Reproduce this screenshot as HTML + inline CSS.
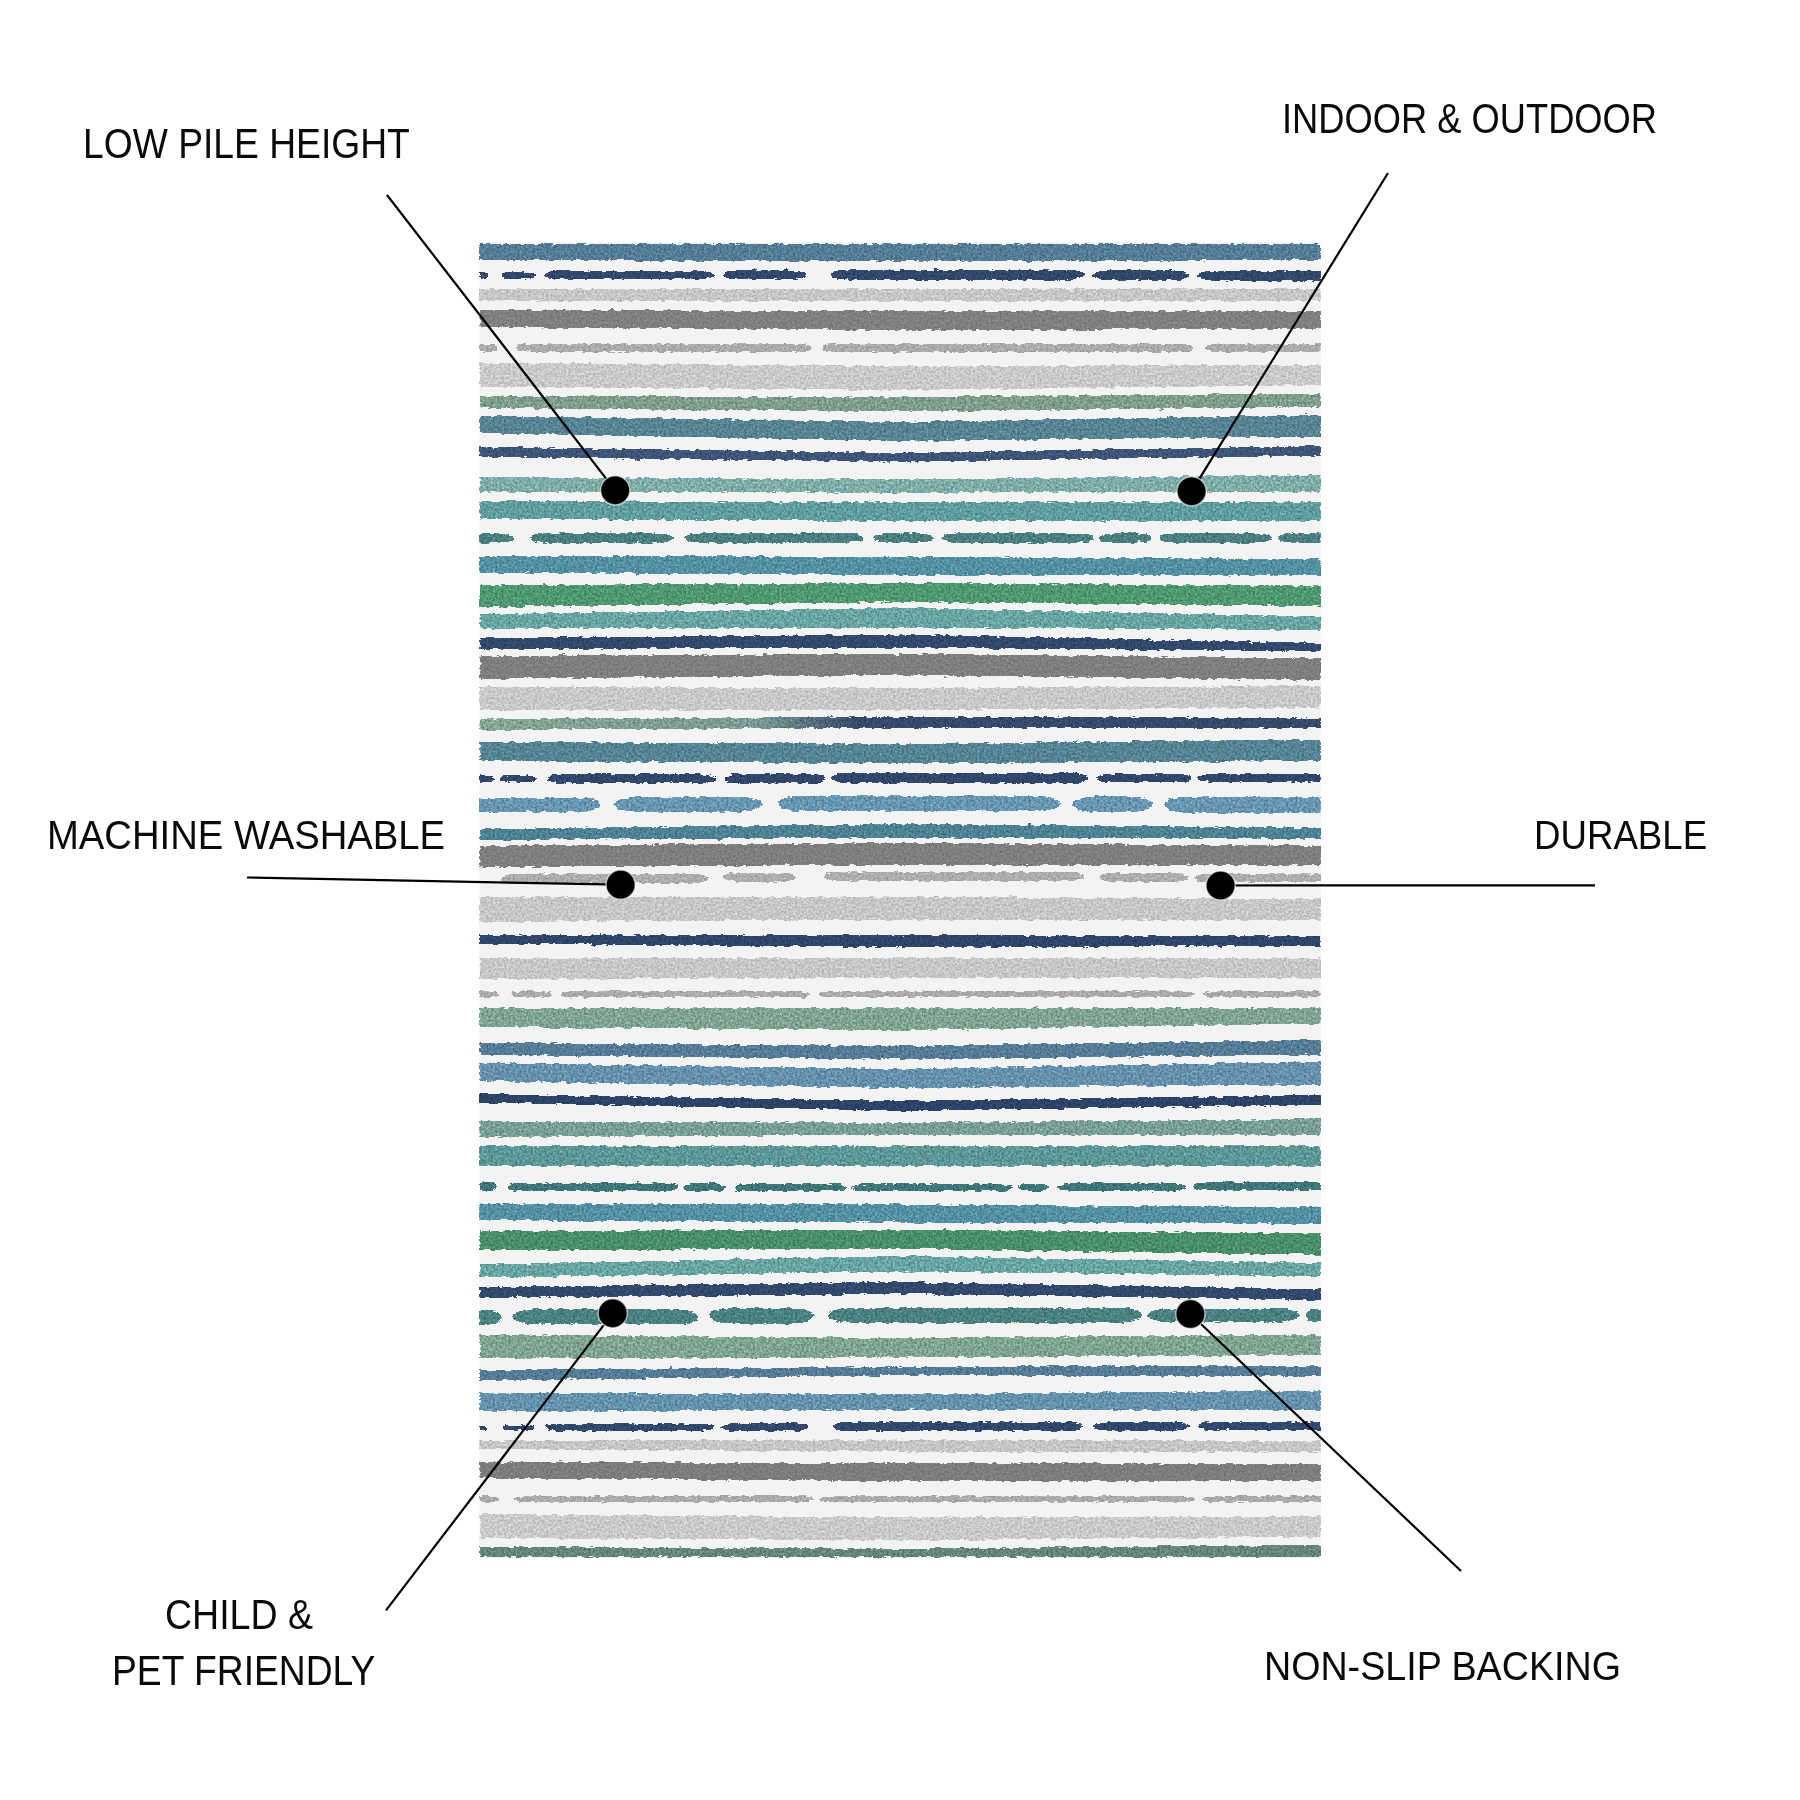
<!DOCTYPE html>
<html><head><meta charset="utf-8"><style>
html,body{margin:0;padding:0;background:#fff;width:1800px;height:1800px;overflow:hidden}
.t{position:absolute;font-family:"Liberation Sans",sans-serif;line-height:1;white-space:pre;color:#0a0a0a;transform-origin:0 0}
svg{position:absolute;left:0;top:0}
</style></head><body>
<svg width="1800" height="1800" viewBox="0 0 1800 1800">
<defs>
<linearGradient id="g19" x1="479" x2="1321" y1="0" y2="0" gradientUnits="userSpaceOnUse">
<stop offset="0" stop-color="#87a596"/><stop offset="0.33" stop-color="#7a9a92"/><stop offset="0.45" stop-color="#36496b"/><stop offset="1" stop-color="#36496b"/>
</linearGradient>
<filter id="tex" x="479" y="240" width="842" height="1320" filterUnits="userSpaceOnUse" color-interpolation-filters="sRGB">
<feTurbulence type="fractalNoise" baseFrequency="0.12 0.4" numOctaves="3" seed="7" result="n1"/>
<feDisplacementMap in="SourceGraphic" in2="n1" scale="4.5" xChannelSelector="R" yChannelSelector="G" result="d0"/>
<feComponentTransfer in="d0" result="d"><feFuncA type="discrete" tableValues="0 1"/></feComponentTransfer>
<feTurbulence type="fractalNoise" baseFrequency="0.45" numOctaves="2" seed="3" result="n2"/>
<feColorMatrix in="n2" type="matrix" values="1 0 0 0 0  1 0 0 0 0  1 0 0 0 0  0 0 0 0 1" result="g"/>
<feComposite in="d" in2="g" operator="arithmetic" k1="0.8" k2="0.6" k3="0" k4="0"/>
</filter>
<filter id="texg" x="479" y="240" width="842" height="1320" filterUnits="userSpaceOnUse" color-interpolation-filters="sRGB">
<feTurbulence type="fractalNoise" baseFrequency="0.12 0.4" numOctaves="3" seed="11" result="n1"/>
<feDisplacementMap in="SourceGraphic" in2="n1" scale="4.5" xChannelSelector="R" yChannelSelector="G" result="d0"/>
<feComponentTransfer in="d0" result="d"><feFuncA type="discrete" tableValues="0 1"/></feComponentTransfer>
<feTurbulence type="fractalNoise" baseFrequency="0.45" numOctaves="2" seed="5" result="n2"/>
<feColorMatrix in="n2" type="matrix" values="1 0 0 0 0  1 0 0 0 0  1 0 0 0 0  0 0 0 0 1" result="g"/>
<feComposite in="d" in2="g" operator="arithmetic" k1="0.45" k2="0.78" k3="0" k4="0"/>
</filter>
</defs>
<rect x="479.50" y="242.00" width="841.25" height="1316.00" fill="#f4f3f3"/>
<g filter="url(#tex)">
<path d="M479.5 244.4 L900.0 244.4 L1320.8 244.4 L1320.8 260.0 L900.0 261.5 L479.5 260.0Z" fill="#547d96"/>
<path d="M479.5 272.4 L483.8 272.4 A4.2 3.1 0 0 1 483.8 278.6 L479.5 278.6 L479.5 278.6 L479.5 272.4Z" fill="#31486c"/>
<path d="M510.9 272.1 L526.1 272.1 A9.9 3.3 0 0 1 526.1 278.7 L510.9 278.7 A9.9 3.3 0 0 1 510.9 272.1Z" fill="#31486c"/>
<path d="M556.4 271.3 L702.6 271.3 A11.4 3.8 0 0 1 702.6 279.0 L556.4 279.0 A11.4 3.8 0 0 1 556.4 271.3Z" fill="#31486c"/>
<path d="M735.4 270.4 L794.6 270.4 A13.4 4.5 0 0 1 794.6 279.3 L735.4 279.3 A13.4 4.5 0 0 1 735.4 270.4Z" fill="#31486c"/>
<path d="M846.1 269.7 L1069.9 269.7 A15.1 5.0 0 0 1 1069.9 279.7 L846.1 279.7 A15.1 5.0 0 0 1 846.1 269.7Z" fill="#31486c"/>
<path d="M1107.4 270.5 L1174.6 270.5 A14.4 4.8 0 0 1 1174.6 280.2 L1107.4 280.2 A14.4 4.8 0 0 1 1107.4 270.5Z" fill="#31486c"/>
<path d="M1212.0 271.1 L1320.8 271.1 L1320.8 271.1 L1320.8 280.5 L1212.0 280.5 A14.0 4.7 0 0 1 1212.0 271.1Z" fill="#31486c"/>
<path d="M479.5 396.0 L900.0 397.0 L1320.8 393.6 L1320.8 406.7 L900.0 411.5 L479.5 408.0Z" fill="#7f9d8e"/>
<path d="M479.5 416.0 L900.0 422.0 L1320.8 415.0 L1320.8 436.6 L900.0 441.0 L479.5 433.0Z" fill="#578494"/>
<path d="M479.5 447.0 L900.0 453.0 L1320.8 446.0 L1320.8 455.7 L900.0 461.7 L479.5 457.0Z" fill="#3e5579"/>
<path d="M479.5 477.0 L900.0 479.6 L1320.8 475.0 L1320.8 491.5 L900.0 492.7 L479.5 491.5Z" fill="#7fada8"/>
<path d="M479.5 501.0 L900.0 502.5 L1320.8 502.0 L1320.8 521.4 L900.0 521.0 L479.5 519.0Z" fill="#609d9d"/>
<path d="M479.5 533.4 L500.2 533.4 A13.8 4.6 0 0 1 500.2 542.6 L479.5 542.6 L479.5 542.6 L479.5 533.4Z" fill="#4a7f80"/>
<path d="M543.8 533.4 L659.2 533.4 A13.8 4.6 0 0 1 659.2 542.6 L543.8 542.6 A13.8 4.6 0 0 1 543.8 533.4Z" fill="#4a7f80"/>
<path d="M698.8 533.4 L849.2 533.4 A13.8 4.6 0 0 1 849.2 542.6 L698.8 542.6 A13.8 4.6 0 0 1 698.8 533.4Z" fill="#4a7f80"/>
<path d="M886.8 533.4 L919.2 533.4 A13.8 4.6 0 0 1 919.2 542.6 L886.8 542.6 A13.8 4.6 0 0 1 886.8 533.4Z" fill="#4a7f80"/>
<path d="M955.8 533.4 L1080.2 533.4 A13.8 4.6 0 0 1 1080.2 542.6 L955.8 542.6 A13.8 4.6 0 0 1 955.8 533.4Z" fill="#4a7f80"/>
<path d="M1112.8 533.4 L1138.2 533.4 A13.8 4.6 0 0 1 1138.2 542.6 L1112.8 542.6 A13.8 4.6 0 0 1 1112.8 533.4Z" fill="#4a7f80"/>
<path d="M1172.8 533.4 L1257.2 533.4 A13.8 4.6 0 0 1 1257.2 542.6 L1172.8 542.6 A13.8 4.6 0 0 1 1172.8 533.4Z" fill="#4a7f80"/>
<path d="M1291.8 533.4 L1320.8 533.4 L1320.8 533.4 L1320.8 542.6 L1291.8 542.6 A13.8 4.6 0 0 1 1291.8 533.4Z" fill="#4a7f80"/>
<path d="M479.5 555.7 L900.0 557.0 L1320.8 559.0 L1320.8 575.0 L900.0 574.9 L479.5 572.5Z" fill="#5490a3"/>
<path d="M479.5 585.0 L900.0 583.0 L1320.8 586.0 L1320.8 606.0 L900.0 602.0 L479.5 607.0Z" fill="#4f9870"/>
<path d="M479.5 614.0 L900.0 608.0 L1320.8 616.7 L1320.8 630.0 L900.0 627.4 L479.5 628.6Z" fill="#68a5a2"/>
<path d="M479.5 638.0 L900.0 634.6 L1320.8 643.0 L1320.8 651.0 L900.0 647.7 L479.5 649.0Z" fill="#32496d"/>
<path d="M479.5 719.0 L900.0 716.7 L1320.8 718.0 L1320.8 727.5 L900.0 727.5 L479.5 730.0Z" fill="url(#g19)"/>
<path d="M479.5 741.8 L900.0 744.0 L1320.8 739.4 L1320.8 761.0 L900.0 763.3 L479.5 761.0Z" fill="#558494"/>
<path d="M479.5 775.4 L486.8 775.4 A7.2 3.4 0 0 1 486.8 782.2 L479.5 782.2 L479.5 782.2 L479.5 775.4Z" fill="#30476b"/>
<path d="M508.7 775.2 L527.3 775.2 A10.7 3.6 0 0 1 527.3 782.3 L508.7 782.3 A10.7 3.6 0 0 1 508.7 775.2Z" fill="#30476b"/>
<path d="M560.1 774.6 L703.9 774.6 A12.1 4.0 0 0 1 703.9 782.6 L560.1 782.6 A12.1 4.0 0 0 1 560.1 774.6Z" fill="#30476b"/>
<path d="M738.9 773.8 L811.1 773.8 A13.9 4.6 0 0 1 811.1 783.0 L738.9 783.0 A13.9 4.6 0 0 1 738.9 773.8Z" fill="#30476b"/>
<path d="M846.7 773.3 L1073.3 773.3 A14.7 4.9 0 0 1 1073.3 783.1 L846.7 783.1 A14.7 4.9 0 0 1 846.7 773.3Z" fill="#30476b"/>
<path d="M1108.3 773.8 L1179.7 773.8 A12.3 4.1 0 0 1 1179.7 782.0 L1108.3 782.0 A12.3 4.1 0 0 1 1108.3 773.8Z" fill="#30476b"/>
<path d="M1207.8 774.1 L1320.8 774.1 L1320.8 774.1 L1320.8 781.4 L1207.8 781.4 A10.8 3.6 0 0 1 1207.8 774.1Z" fill="#30476b"/>
<path d="M479.5 797.8 L581.8 797.8 A21.2 7.1 0 0 1 581.8 811.9 L479.5 811.9 L479.5 811.9 L479.5 797.8Z" fill="#6696b2"/>
<path d="M633.8 797.0 L743.2 797.0 A21.8 7.3 0 0 1 743.2 811.5 L633.8 811.5 A21.8 7.3 0 0 1 633.8 797.0Z" fill="#6696b2"/>
<path d="M800.7 795.8 L1037.3 795.8 A22.7 7.6 0 0 1 1037.3 811.0 L800.7 811.0 A22.7 7.6 0 0 1 800.7 795.8Z" fill="#6696b2"/>
<path d="M1093.6 796.4 L1131.4 796.4 A23.6 7.9 0 0 1 1131.4 812.1 L1093.6 812.1 A23.6 7.9 0 0 1 1093.6 796.4Z" fill="#6696b2"/>
<path d="M1186.2 796.7 L1320.8 796.7 L1320.8 796.7 L1320.8 812.8 L1186.2 812.8 A24.2 8.1 0 0 1 1186.2 796.7Z" fill="#6696b2"/>
<path d="M479.5 829.0 L900.0 824.0 L1320.8 827.8 L1320.8 838.6 L900.0 837.4 L479.5 839.8Z" fill="#4d8294"/>
<path d="M479.5 935.0 L900.0 935.0 L1320.8 936.4 L1320.8 946.0 L900.0 947.0 L479.5 943.6Z" fill="#2f456a"/>
<path d="M479.5 1008.0 L900.0 1008.0 L1320.8 1008.0 L1320.8 1023.5 L900.0 1030.0 L479.5 1027.0Z" fill="#7fa494"/>
<path d="M479.5 1042.7 L900.0 1046.0 L1320.8 1040.0 L1320.8 1054.6 L900.0 1059.4 L479.5 1054.6Z" fill="#557c97"/>
<path d="M479.5 1063.0 L900.0 1069.0 L1320.8 1061.8 L1320.8 1084.5 L900.0 1088.0 L479.5 1081.0Z" fill="#6591ad"/>
<path d="M479.5 1094.0 L900.0 1101.0 L1320.8 1095.0 L1320.8 1104.8 L900.0 1110.8 L479.5 1102.4Z" fill="#2d4368"/>
<path d="M479.5 1121.5 L900.0 1122.7 L1320.8 1119.0 L1320.8 1134.7 L900.0 1134.7 L479.5 1137.0Z" fill="#789f96"/>
<path d="M479.5 1146.6 L900.0 1146.6 L1320.8 1146.6 L1320.8 1165.7 L900.0 1165.7 L479.5 1165.7Z" fill="#5d9797"/>
<path d="M479.5 1182.2 L489.2 1182.2 A9.8 4.6 0 0 1 489.2 1191.3 L479.5 1191.3 L479.5 1191.3 L479.5 1182.2Z" fill="#3e7778"/>
<path d="M519.9 1182.7 L665.1 1182.7 A12.9 4.3 0 0 1 665.1 1191.3 L519.9 1191.3 A12.9 4.3 0 0 1 519.9 1182.7Z" fill="#3e7778"/>
<path d="M695.0 1183.3 L714.0 1183.3 A12.0 4.0 0 0 1 714.0 1191.3 L695.0 1191.3 A12.0 4.0 0 0 1 695.0 1183.3Z" fill="#3e7778"/>
<path d="M746.2 1183.8 L834.8 1183.8 A11.2 3.7 0 0 1 834.8 1191.3 L746.2 1191.3 A11.2 3.7 0 0 1 746.2 1183.8Z" fill="#3e7778"/>
<path d="M862.5 1184.2 L1001.5 1184.2 A10.5 3.5 0 0 1 1001.5 1191.2 L862.5 1191.2 A10.5 3.5 0 0 1 862.5 1184.2Z" fill="#3e7778"/>
<path d="M1028.9 1183.7 L1038.1 1183.7 A10.9 3.6 0 0 1 1038.1 1190.9 L1028.9 1190.9 A10.9 3.6 0 0 1 1028.9 1183.7Z" fill="#3e7778"/>
<path d="M1068.2 1183.2 L1173.8 1183.2 A11.2 3.7 0 0 1 1173.8 1190.7 L1068.2 1190.7 A11.2 3.7 0 0 1 1068.2 1183.2Z" fill="#3e7778"/>
<path d="M1205.8 1182.4 L1320.8 1182.4 L1320.8 1182.4 L1320.8 1190.3 L1205.8 1190.3 A11.8 3.9 0 0 1 1205.8 1182.4Z" fill="#3e7778"/>
<path d="M479.5 1204.6 L900.0 1204.6 L1320.8 1207.0 L1320.8 1223.7 L900.0 1222.6 L479.5 1220.0Z" fill="#5490a3"/>
<path d="M479.5 1231.0 L900.0 1229.7 L1320.8 1233.3 L1320.8 1254.8 L900.0 1248.8 L479.5 1250.0Z" fill="#4a8f6a"/>
<path d="M479.5 1264.4 L900.0 1256.0 L1320.8 1263.0 L1320.8 1276.3 L900.0 1271.5 L479.5 1277.5Z" fill="#68a5a2"/>
<path d="M479.5 1287.0 L900.0 1282.0 L1320.8 1289.4 L1320.8 1300.0 L900.0 1294.0 L479.5 1297.8Z" fill="#32496d"/>
<path d="M479.5 1310.2 L490.2 1310.2 A10.8 7.2 0 0 1 490.2 1324.6 L479.5 1324.6 L479.5 1324.6 L479.5 1310.2Z" fill="#4a8181"/>
<path d="M532.1 1309.4 L678.9 1309.4 A22.1 7.4 0 0 1 678.9 1324.1 L532.1 1324.1 A22.1 7.4 0 0 1 532.1 1309.4Z" fill="#4a8181"/>
<path d="M731.6 1308.3 L791.4 1308.3 A22.6 7.5 0 0 1 791.4 1323.4 L731.6 1323.4 A22.6 7.5 0 0 1 731.6 1308.3Z" fill="#4a8181"/>
<path d="M851.2 1307.7 L1119.8 1307.7 A22.2 7.4 0 0 1 1119.8 1322.5 L851.2 1322.5 A22.2 7.4 0 0 1 851.2 1307.7Z" fill="#4a8181"/>
<path d="M1167.6 1308.8 L1279.4 1308.8 A19.6 6.5 0 0 1 1279.4 1321.9 L1167.6 1321.9 A19.6 6.5 0 0 1 1167.6 1308.8Z" fill="#4a8181"/>
<path d="M1313.4 1309.3 L1320.8 1309.3 L1320.8 1309.3 L1320.8 1321.7 L1313.4 1321.7 A7.4 6.2 0 0 1 1313.4 1309.3Z" fill="#4a8181"/>
<path d="M479.5 1334.6 L900.0 1338.0 L1320.8 1334.6 L1320.8 1354.9 L900.0 1357.3 L479.5 1358.4Z" fill="#7fa494"/>
<path d="M479.5 1370.0 L900.0 1366.8 L1320.8 1365.6 L1320.8 1376.4 L900.0 1375.2 L479.5 1380.5Z" fill="#557c97"/>
<path d="M479.5 1393.0 L900.0 1394.3 L1320.8 1390.7 L1320.8 1409.8 L900.0 1409.8 L479.5 1411.0Z" fill="#6492ad"/>
<path d="M479.5 1425.4 L483.8 1425.4 A4.2 2.4 0 0 1 483.8 1430.1 L479.5 1430.1 L479.5 1430.1 L479.5 1425.4Z" fill="#31486c"/>
<path d="M508.7 1425.1 L528.3 1425.1 A7.7 2.6 0 0 1 528.3 1430.2 L508.7 1430.2 A7.7 2.6 0 0 1 508.7 1425.1Z" fill="#31486c"/>
<path d="M554.4 1424.2 L704.6 1424.2 A9.4 3.1 0 0 1 704.6 1430.5 L554.4 1430.5 A9.4 3.1 0 0 1 554.4 1424.2Z" fill="#31486c"/>
<path d="M733.5 1423.1 L796.5 1423.1 A11.5 3.8 0 0 1 796.5 1430.8 L733.5 1430.8 A11.5 3.8 0 0 1 733.5 1423.1Z" fill="#31486c"/>
<path d="M844.4 1422.0 L1071.6 1422.0 A13.4 4.5 0 0 1 1071.6 1430.9 L844.4 1430.9 A13.4 4.5 0 0 1 844.4 1422.0Z" fill="#31486c"/>
<path d="M1105.6 1422.0 L1176.4 1422.0 A12.6 4.2 0 0 1 1176.4 1430.4 L1105.6 1430.4 A12.6 4.2 0 0 1 1105.6 1422.0Z" fill="#31486c"/>
<path d="M1210.1 1422.0 L1320.8 1422.0 L1320.8 1422.0 L1320.8 1430.1 L1210.1 1430.1 A12.1 4.0 0 0 1 1210.1 1422.0Z" fill="#31486c"/>
<path d="M479.5 1547.0 L900.0 1548.7 L1320.8 1545.0 L1320.8 1557.0 L900.0 1557.0 L479.5 1557.0Z" fill="#658679"/>
</g>
<g filter="url(#texg)">
<path d="M479.5 289.0 L900.0 289.0 L1320.8 289.0 L1320.8 301.0 L900.0 301.0 L479.5 301.0Z" fill="#c6c6c6"/>
<path d="M479.5 310.0 L900.0 311.0 L1320.8 311.0 L1320.8 329.0 L900.0 330.0 L479.5 327.0Z" fill="#7f7f7f"/>
<path d="M479.5 343.9 L489.2 343.9 A9.8 3.9 0 0 1 489.2 351.6 L479.5 351.6 L479.5 351.6 L479.5 343.9Z" fill="#aaaaaa"/>
<path d="M525.6 343.9 L802.4 343.9 A11.6 3.9 0 0 1 802.4 351.6 L525.6 351.6 A11.6 3.9 0 0 1 525.6 343.9Z" fill="#aaaaaa"/>
<path d="M830.6 343.9 L1183.4 343.9 A11.6 3.9 0 0 1 1183.4 351.6 L830.6 351.6 A11.6 3.9 0 0 1 830.6 343.9Z" fill="#aaaaaa"/>
<path d="M1214.6 343.9 L1320.8 343.9 L1320.8 343.9 L1320.8 351.6 L1214.6 351.6 A11.6 3.9 0 0 1 1214.6 343.9Z" fill="#aaaaaa"/>
<path d="M479.5 362.6 L900.0 366.0 L1320.8 365.0 L1320.8 385.0 L900.0 390.0 L479.5 386.5Z" fill="#c9c9c9"/>
<path d="M479.5 656.0 L900.0 653.7 L1320.8 658.5 L1320.8 680.0 L900.0 675.0 L479.5 678.8Z" fill="#7e7e7e"/>
<path d="M479.5 687.0 L900.0 688.0 L1320.8 686.0 L1320.8 707.5 L900.0 710.0 L479.5 710.0Z" fill="#c8c8c8"/>
<path d="M479.5 845.7 L900.0 843.0 L1320.8 845.7 L1320.8 864.8 L900.0 864.8 L479.5 867.0Z" fill="#7e7e7e"/>
<path d="M513.7 874.2 L695.3 874.2 A12.7 4.2 0 0 1 695.3 882.7 L513.7 882.7 A12.7 4.2 0 0 1 513.7 874.2Z" fill="#acacac"/>
<path d="M736.3 872.7 L782.7 872.7 A13.3 4.4 0 0 1 782.7 881.6 L736.3 881.6 A13.3 4.4 0 0 1 736.3 872.7Z" fill="#acacac"/>
<path d="M837.6 871.8 L1070.4 871.8 A13.6 4.5 0 0 1 1070.4 880.9 L837.6 880.9 A13.6 4.5 0 0 1 837.6 871.8Z" fill="#acacac"/>
<path d="M1112.9 873.1 L1175.1 873.1 A12.9 4.3 0 0 1 1175.1 881.8 L1112.9 881.8 A12.9 4.3 0 0 1 1112.9 873.1Z" fill="#acacac"/>
<path d="M1206.5 873.9 L1320.8 873.9 L1320.8 873.9 L1320.8 882.3 L1206.5 882.3 A12.5 4.2 0 0 1 1206.5 873.9Z" fill="#acacac"/>
<path d="M479.5 897.0 L900.0 897.0 L1320.8 899.0 L1320.8 919.7 L900.0 919.5 L479.5 922.0Z" fill="#c6c6c6"/>
<path d="M479.5 958.0 L900.0 958.5 L1320.8 958.0 L1320.8 978.5 L900.0 977.5 L479.5 979.0Z" fill="#c6c6c6"/>
<path d="M479.5 991.4 L491.4 991.4 A8.6 2.9 0 0 1 491.4 997.1 L479.5 997.1 L479.5 997.1 L479.5 991.4Z" fill="#aaaaaa"/>
<path d="M518.6 991.4 L545.4 991.4 A8.6 2.9 0 0 1 545.4 997.1 L518.6 997.1 A8.6 2.9 0 0 1 518.6 991.4Z" fill="#aaaaaa"/>
<path d="M567.6 991.4 L802.4 991.4 A8.6 2.9 0 0 1 802.4 997.1 L567.6 997.1 A8.6 2.9 0 0 1 567.6 991.4Z" fill="#aaaaaa"/>
<path d="M826.6 991.4 L1186.4 991.4 A8.6 2.9 0 0 1 1186.4 997.1 L826.6 997.1 A8.6 2.9 0 0 1 826.6 991.4Z" fill="#aaaaaa"/>
<path d="M1210.6 991.4 L1320.8 991.4 L1320.8 991.4 L1320.8 997.1 L1210.6 997.1 A8.6 2.9 0 0 1 1210.6 991.4Z" fill="#aaaaaa"/>
<path d="M479.5 1440.9 L900.0 1439.7 L1320.8 1440.9 L1320.8 1451.6 L900.0 1451.6 L479.5 1449.0Z" fill="#c5c5c5"/>
<path d="M479.5 1462.0 L900.0 1463.0 L1320.8 1464.0 L1320.8 1481.0 L900.0 1481.0 L479.5 1478.2Z" fill="#7c7c7c"/>
<path d="M479.5 1496.4 L490.8 1496.4 A8.2 2.7 0 0 1 490.8 1501.9 L479.5 1501.9 L479.5 1501.9 L479.5 1496.4Z" fill="#aaaaaa"/>
<path d="M522.2 1496.4 L805.8 1496.4 A8.2 2.7 0 0 1 805.8 1501.9 L522.2 1501.9 A8.2 2.7 0 0 1 522.2 1496.4Z" fill="#aaaaaa"/>
<path d="M827.2 1496.4 L1186.8 1496.4 A8.2 2.7 0 0 1 1186.8 1501.9 L827.2 1501.9 A8.2 2.7 0 0 1 827.2 1496.4Z" fill="#aaaaaa"/>
<path d="M1211.2 1496.4 L1320.8 1496.4 L1320.8 1496.4 L1320.8 1501.9 L1211.2 1501.9 A8.2 2.7 0 0 1 1211.2 1496.4Z" fill="#aaaaaa"/>
<path d="M479.5 1514.0 L900.0 1517.6 L1320.8 1516.4 L1320.8 1536.7 L900.0 1540.3 L479.5 1538.0Z" fill="#c9c9c9"/>
</g>
<line x1="387.0" y1="195.0" x2="615.2" y2="490.3" stroke="#000" stroke-width="2.2"/>
<line x1="1388.0" y1="173.0" x2="1191.6" y2="491.3" stroke="#000" stroke-width="2.2"/>
<line x1="247.0" y1="877.5" x2="620.6" y2="884.7" stroke="#000" stroke-width="2.2"/>
<line x1="1220.6" y1="885.5" x2="1595.0" y2="885.3" stroke="#000" stroke-width="2.2"/>
<line x1="612.7" y1="1313.3" x2="386.0" y2="1610.3" stroke="#000" stroke-width="2.2"/>
<line x1="1190.4" y1="1314.0" x2="1461.0" y2="1571.0" stroke="#000" stroke-width="2.2"/>
<circle cx="615.2" cy="490.3" r="14.6" fill="#000" stroke="#fff" stroke-opacity="0.6" stroke-width="1.5"/>
<circle cx="1191.6" cy="491.3" r="14.6" fill="#000" stroke="#fff" stroke-opacity="0.6" stroke-width="1.5"/>
<circle cx="620.6" cy="884.7" r="14.6" fill="#000" stroke="#fff" stroke-opacity="0.6" stroke-width="1.5"/>
<circle cx="1220.6" cy="885.5" r="14.6" fill="#000" stroke="#fff" stroke-opacity="0.6" stroke-width="1.5"/>
<circle cx="612.7" cy="1313.3" r="14.6" fill="#000" stroke="#fff" stroke-opacity="0.6" stroke-width="1.5"/>
<circle cx="1190.4" cy="1314.0" r="14.6" fill="#000" stroke="#fff" stroke-opacity="0.6" stroke-width="1.5"/>
</svg>
<div class="t" style="left:82.62px;top:122.95px;font-size:41.58px;transform:scaleX(0.8954)">LOW PILE HEIGHT</div>
<div class="t" style="left:1281.93px;top:98.49px;font-size:42.01px;transform:scaleX(0.8641)">INDOOR &amp; OUTDOOR</div>
<div class="t" style="left:47.44px;top:814.70px;font-size:40.65px;transform:scaleX(0.9411)">MACHINE WASHABLE</div>
<div class="t" style="left:1533.77px;top:814.67px;font-size:40.86px;transform:scaleX(0.8968)">DURABLE</div>
<div class="t" style="left:164.72px;top:1593.70px;font-size:42.23px;transform:scaleX(0.8884)">CHILD &amp;</div>
<div class="t" style="left:111.77px;top:1649.75px;font-size:41.58px;transform:scaleX(0.8951)">PET FRIENDLY</div>
<div class="t" style="left:1264.09px;top:1645.81px;font-size:40.58px;transform:scaleX(0.9274)">NON-SLIP BACKING</div>
</body></html>
